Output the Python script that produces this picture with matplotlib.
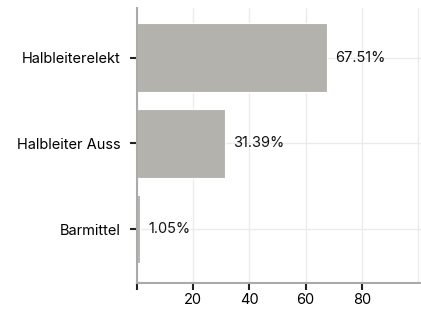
import matplotlib.pyplot as plt

# data
categories = ["Barmittel", "Halbleiter Auss", "Halbleiterelekt"]
shares = [1.05, 31.39, 67.51]
xticks = [0, 20, 40, 60, 80]
xticklabels = ["", "20", "40", "60", "80"]

plt.rcParams["font.family"] = ["Inter", "DejaVu Sans"]

fig = plt.figure(figsize=(4.21, 3.09), dpi=100)
ax = fig.add_axes([0.325, 0.084, 0.675, 0.89])

pos = list(range(len(categories)))
ax.barh(pos, shares, height=0.8, color="#b3b2ad", edgecolor="white", linewidth=0.8, zorder=2)

for p, v in zip(pos, shares):
    ax.text(v + 3.0, p, f"{v:.2f}%", va="center", ha="left", fontsize=10.5, color="#111111")

ax.set_yticks(pos)
ax.set_yticklabels(categories, fontsize=10.5)
ax.set_xticks(xticks)
ax.set_xticklabels(xticklabels, fontsize=10.5)
ax.set_xticks([100], minor=True)
ax.set_xlim(0, 101)
ax.set_ylim(-0.63, 2.58)

ax.grid(True, which="both", color="#ebebeb", linewidth=1, zorder=0)
ax.tick_params(axis="x", which="minor", length=0)
ax.tick_params(axis="both", which="major", length=5, width=1.5, color="#222222")
ax.tick_params(axis="y", pad=7)
ax.tick_params(axis="x", pad=2)
ax.set_axisbelow(True)

for s in ["top", "right"]:
    ax.spines[s].set_visible(False)
for s in ["left", "bottom"]:
    ax.spines[s].set_color("#aaaaaa")
    ax.spines[s].set_linewidth(1.5)

fig.savefig("out.png", dpi=100)
